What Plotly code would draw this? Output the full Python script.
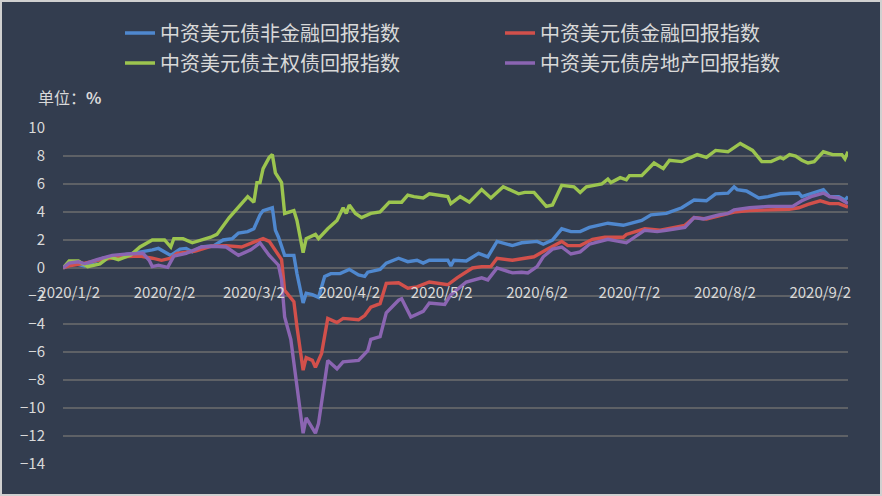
"""
中资美元债回报指数走势图
"""
import plotly.graph_objects as go

# 图表尺寸与边距
W, H = 882, 496
M_L, M_R, M_T, M_B = 63, 34, 128, 32

# 非金融
blue_dates = ['2019-12-31', '2020-01-02', '2020-01-04', '2020-01-07', '2020-01-13', '2020-01-19',
              '2020-01-24', '2020-01-29', '2020-01-31', '2020-02-04', '2020-02-07', '2020-02-09',
              '2020-02-11', '2020-02-14', '2020-02-18', '2020-02-21', '2020-02-24', '2020-02-26',
              '2020-02-29', '2020-03-02', '2020-03-04', '2020-03-05', '2020-03-08', '2020-03-09',
              '2020-03-10', '2020-03-12', '2020-03-15', '2020-03-16', '2020-03-18', '2020-03-19',
              '2020-03-21', '2020-03-23', '2020-03-25', '2020-03-27', '2020-03-30', '2020-04-02',
              '2020-04-05', '2020-04-07', '2020-04-08', '2020-04-12', '2020-04-14', '2020-04-18',
              '2020-04-21', '2020-04-24', '2020-04-26', '2020-04-28', '2020-05-04', '2020-05-05',
              '2020-05-06', '2020-05-10', '2020-05-14', '2020-05-17', '2020-05-20', '2020-05-25',
              '2020-05-28', '2020-06-02', '2020-06-04', '2020-06-07', '2020-06-10', '2020-06-13',
              '2020-06-16', '2020-06-19', '2020-06-25', '2020-06-30', '2020-07-06', '2020-07-09',
              '2020-07-14', '2020-07-19', '2020-07-23', '2020-07-27', '2020-07-30', '2020-08-03',
              '2020-08-05', '2020-08-06', '2020-08-09', '2020-08-13', '2020-08-16', '2020-08-20',
              '2020-08-26', '2020-08-27', '2020-08-30', '2020-09-03', '2020-09-05', '2020-09-08',
              '2020-09-10', '2020-09-11']
blue_vals = [0, 0.2, 0.3, 0.15, 0.7, 0.9,
             1.1, 1.3, 1.4, 0.9, 1.35, 1.4,
             1.15, 1.5, 1.6, 2.0, 2.1, 2.5,
             2.6, 2.8, 3.8, 4.1, 4.3, 2.7,
             2.2, 0.9, 0.9, -0.4, -2.5, -1.8,
             -1.9, -2.1, -0.6, -0.4, -0.4, -0.1,
             -0.5, -0.6, -0.3, -0.1, 0.35, 0.7,
             0.45, 0.55, 0.35, 0.55, 0.55, 0.15,
             0.55, 0.5, 1.05, 0.8, 1.9, 1.6,
             1.8, 1.9, 1.7, 2.0, 2.8, 2.6,
             2.6, 2.9, 3.2, 3.05, 3.4, 3.8,
             3.9, 4.3, 4.85, 4.8, 5.3, 5.35,
             5.8, 5.6, 5.5, 5.0, 5.1, 5.3,
             5.35, 5.1, 5.3, 5.6, 5.1, 5.1,
             4.85, 5.1]

# 金融
red_dates = ['2019-12-31', '2020-01-02', '2020-01-06', '2020-01-11', '2020-01-19', '2020-01-25',
             '2020-01-29', '2020-02-01', '2020-02-04', '2020-02-06', '2020-02-12', '2020-02-17',
             '2020-02-22', '2020-02-27', '2020-03-02', '2020-03-05', '2020-03-07', '2020-03-09',
             '2020-03-11', '2020-03-12', '2020-03-15', '2020-03-16', '2020-03-18', '2020-03-19',
             '2020-03-21', '2020-03-22', '2020-03-24', '2020-03-26', '2020-03-29', '2020-03-31',
             '2020-04-05', '2020-04-07', '2020-04-09', '2020-04-12', '2020-04-14', '2020-04-18',
             '2020-04-21', '2020-04-24', '2020-04-28', '2020-05-04', '2020-05-07', '2020-05-12',
             '2020-05-15', '2020-05-18', '2020-05-20', '2020-05-25', '2020-05-29', '2020-06-01',
             '2020-06-05', '2020-06-10', '2020-06-12', '2020-06-16', '2020-06-20', '2020-06-24',
             '2020-06-30', '2020-07-01', '2020-07-07', '2020-07-12', '2020-07-20', '2020-07-23',
             '2020-07-27', '2020-08-02', '2020-08-05', '2020-08-10', '2020-08-16', '2020-08-23',
             '2020-08-26', '2020-08-29', '2020-09-02', '2020-09-05', '2020-09-08', '2020-09-11']
red_vals = [0, 0.15, 0.3, 0.55, 0.8, 0.85,
            0.7, 0.55, 0.7, 1.05, 1.2, 1.55,
            1.6, 1.5, 1.85, 2.1, 1.9, 1.3,
            0.6, -1.6, -2.4, -4.2, -7.3, -6.4,
            -6.6, -7.1, -6.1, -3.6, -3.9, -3.6,
            -3.7, -3.4, -2.8, -2.55, -1.1, -1.05,
            -1.45, -1.35, -1.0, -1.2, -0.7, 0,
            0.1, 0.1, 0.7, 0.55, 0.7, 0.8,
            1.3, 1.9, 1.6, 1.6, 2.05, 2.2,
            2.2, 2.4, 2.8, 2.7, 3.05, 3.6,
            3.5, 3.8, 4.0, 4.1, 4.15, 4.2,
            4.3, 4.55, 4.8, 4.6, 4.6, 4.35]

# 主权债
green_dates = ['2019-12-31', '2020-01-02', '2020-01-05', '2020-01-08', '2020-01-12', '2020-01-15',
               '2020-01-18', '2020-01-22', '2020-01-25', '2020-01-29', '2020-02-02', '2020-02-04',
               '2020-02-05', '2020-02-08', '2020-02-11', '2020-02-17', '2020-02-19', '2020-02-23',
               '2020-02-29', '2020-03-02', '2020-03-03', '2020-03-04', '2020-03-05', '2020-03-07',
               '2020-03-08', '2020-03-09', '2020-03-11', '2020-03-12', '2020-03-15', '2020-03-16',
               '2020-03-18', '2020-03-19', '2020-03-22', '2020-03-23', '2020-03-26', '2020-03-29',
               '2020-03-31', '2020-04-01', '2020-04-02', '2020-04-04', '2020-04-06', '2020-04-09',
               '2020-04-12', '2020-04-15', '2020-04-19', '2020-04-21', '2020-04-23', '2020-04-26',
               '2020-04-28', '2020-05-04', '2020-05-05', '2020-05-08', '2020-05-11', '2020-05-15',
               '2020-05-18', '2020-05-22', '2020-05-27', '2020-05-29', '2020-06-01', '2020-06-05',
               '2020-06-07', '2020-06-10', '2020-06-14', '2020-06-16', '2020-06-18', '2020-06-23',
               '2020-06-25', '2020-06-26', '2020-06-29', '2020-07-01', '2020-07-02', '2020-07-06',
               '2020-07-10', '2020-07-13', '2020-07-15', '2020-07-19', '2020-07-24', '2020-07-27',
               '2020-07-30', '2020-08-03', '2020-08-07', '2020-08-11', '2020-08-14', '2020-08-17',
               '2020-08-20', '2020-08-21', '2020-08-23', '2020-08-25', '2020-08-27', '2020-08-29',
               '2020-08-31', '2020-09-03', '2020-09-06', '2020-09-09', '2020-09-10', '2020-09-11']
green_vals = [0, 0.5, 0.5, 0.1, 0.3, 0.8,
              0.6, 0.93, 1.5, 2.0, 2.0, 1.5,
              2.1, 2.1, 1.8, 2.2, 2.4, 3.6,
              5.1, 4.7, 6.1, 6.1, 7.1, 7.9,
              8.1, 6.8, 6.1, 3.9, 4.1, 3.4,
              1.1, 2.1, 2.4, 2.1, 2.8, 3.4,
              4.3, 3.9, 4.5, 3.9, 3.6, 3.9,
              4.0, 4.7, 4.7, 5.2, 5.1, 5.0,
              5.3, 5.1, 4.6, 5.1, 4.7, 5.6,
              5.0, 5.8, 5.3, 5.4, 5.4, 4.4,
              4.5, 5.9, 5.8, 5.4, 5.8, 6.0,
              6.35, 6.1, 6.45, 6.3, 6.6, 6.6,
              7.5, 7.1, 7.7, 7.6, 8.1, 7.9,
              8.4, 8.3, 8.9, 8.4, 7.6, 7.6,
              7.9, 7.8, 8.1, 8.0, 7.7, 7.5,
              7.6, 8.3, 8.1, 8.1, 7.8, 8.3]

# 房地产
purple_dates = ['2019-12-31', '2020-01-02', '2020-01-05', '2020-01-07', '2020-01-11', '2020-01-16',
                '2020-01-21', '2020-01-26', '2020-01-28', '2020-01-29', '2020-01-31', '2020-02-03',
                '2020-02-05', '2020-02-09', '2020-02-14', '2020-02-18', '2020-02-22', '2020-02-26',
                '2020-03-01', '2020-03-04', '2020-03-07', '2020-03-10', '2020-03-11', '2020-03-12',
                '2020-03-14', '2020-03-16', '2020-03-18', '2020-03-19', '2020-03-22', '2020-03-23',
                '2020-03-26', '2020-03-29', '2020-03-31', '2020-04-05', '2020-04-08', '2020-04-09',
                '2020-04-12', '2020-04-14', '2020-04-18', '2020-04-19', '2020-04-22', '2020-04-26',
                '2020-04-28', '2020-05-03', '2020-05-05', '2020-05-10', '2020-05-15', '2020-05-17',
                '2020-05-20', '2020-05-25', '2020-05-28', '2020-05-30', '2020-06-02', '2020-06-04',
                '2020-06-07', '2020-06-10', '2020-06-13', '2020-06-16', '2020-06-19', '2020-06-25',
                '2020-06-29', '2020-07-01', '2020-07-07', '2020-07-11', '2020-07-14', '2020-07-20',
                '2020-07-23', '2020-07-26', '2020-07-31', '2020-08-03', '2020-08-05', '2020-08-10',
                '2020-08-16', '2020-08-24', '2020-08-27', '2020-08-30', '2020-09-03', '2020-09-05',
                '2020-09-08', '2020-09-11']
purple_vals = [0, 0.35, 0.45, 0.3, 0.6, 0.9,
               1.0, 1.05, 0.55, 0.1, 0.2, 0.05,
               0.85, 1.05, 1.5, 1.55, 1.5, 0.9,
               1.3, 1.8, 0.9, 0.2, -0.85, -3.5,
               -5.1, -8.5, -11.8, -10.7, -11.8, -11.1,
               -6.6, -7.2, -6.7, -6.6, -5.9, -5.1,
               -4.9, -3.2, -2.3, -2.2, -3.5, -3.1,
               -2.5, -2.6, -1.9, -1.0, -0.7, -0.85,
               0, -0.35, -0.3, -0.35, 0.1, 0.8,
               1.35, 1.5, 1.0, 1.15, 1.7, 2.05,
               1.9, 1.8, 2.7, 2.6, 2.7, 2.9,
               3.6, 3.5, 3.8, 3.9, 4.15, 4.3,
               4.4, 4.4, 4.8, 5.1, 5.35, 5.1,
               5.0, 4.6]

# 坐标轴刻度
x_tick_vals = ['2020-01-02', '2020-02-02', '2020-03-02', '2020-04-02', '2020-05-02',
               '2020-06-02', '2020-07-02', '2020-08-02', '2020-09-02']
x_tick_text = ['2020/1/2', '2020/2/2', '2020/3/2', '2020/4/2', '2020/5/2',
               '2020/6/2', '2020/7/2', '2020/8/2', '2020/9/2']
y_tick_vals = [-14, -12, -10, -8, -6, -4, -2, 0, 2, 4, 6, 8, 10]

BG = '#333d4f'
GRID = '#5e6166'
TEXT = '#d9d9d9'
FONT = 'Noto Sans CJK SC'

series = [
    ('中资美元债非金融回报指数', blue_dates, blue_vals, '#4f88cf', 'legend'),
    ('中资美元债金融回报指数', red_dates, red_vals, '#d2504b', 'legend'),
    ('中资美元债主权债回报指数', green_dates, green_vals, '#9cc54f', 'legend2'),
    ('中资美元债房地产回报指数', purple_dates, purple_vals, '#8b65b2', 'legend2'),
]

fig = go.Figure()
for name, xs, ys, color, lg in series:
    fig.add_trace(go.Scatter(
        x=xs, y=ys, mode='lines', name=name,
        line=dict(color=color, width=3.4),
        legend=lg,
    ))

y_min, y_max = -14, 10
# x轴放在 y=0 处
x_axis_pos = (0 - y_min) / (y_max - y_min)

legend_style = dict(
    orientation='h', xref='container', yref='container',
    xanchor='left', yanchor='middle',
    entrywidth=335, entrywidthmode='pixels',
    bgcolor='rgba(0,0,0,0)',
    font=dict(family=FONT, size=20, color=TEXT),
    itemwidth=30,
)

fig.update_layout(
    width=W, height=H,
    margin=dict(l=M_L, r=M_R, t=M_T, b=M_B),
    paper_bgcolor=BG, plot_bgcolor=BG,
    font=dict(family=FONT, color=TEXT, size=14),
    legend=dict(legend_style, x=120 / W, y=1 - 33 / H),
    legend2=dict(legend_style, x=120 / W, y=1 - 63 / H),
    xaxis=dict(
        type='date',
        range=['2019-12-31', '2020-09-11'],
        tickvals=x_tick_vals, ticktext=x_tick_text,
        tickfont=dict(size=15, color=TEXT),
        showgrid=False, zeroline=False,
        showline=False,
        anchor='free', position=x_axis_pos,
        ticks='outside', ticklen=11, tickcolor='rgba(0,0,0,0)',
    ),
    yaxis=dict(
        range=[y_min, y_max],
        tickvals=y_tick_vals,
        tickfont=dict(size=15, color=TEXT),
        showgrid=True, gridcolor=GRID, gridwidth=1.5,
        zeroline=False, showline=False,
        ticks='outside', ticklen=14, tickcolor='rgba(0,0,0,0)',
    ),
    annotations=[dict(
        text='单位：<b>%</b>', xref='paper', yref='paper',
        x=(36 - M_L) / (W - M_L - M_R), y=(H - M_B - 97) / (H - M_T - M_B),
        xanchor='left', yanchor='middle', showarrow=False,
        font=dict(family=FONT, size=16, color=TEXT),
    )],
)

# 外边框
pw = W - M_L - M_R
ph = H - M_T - M_B
fig.add_shape(
    type='rect', xref='paper', yref='paper',
    x0=-(M_L - 1) / pw, x1=(W - M_L - 1) / pw,
    y0=-(M_B - 1) / ph, y1=(H - M_B - 1) / ph,
    line=dict(color='#d0d0d0', width=2), layer='below',
)

# 去掉页面默认边距，隐藏工具栏
fig.write_html("out.html", config={'displayModeBar': False},
               post_script="document.body.style.margin='0';")
